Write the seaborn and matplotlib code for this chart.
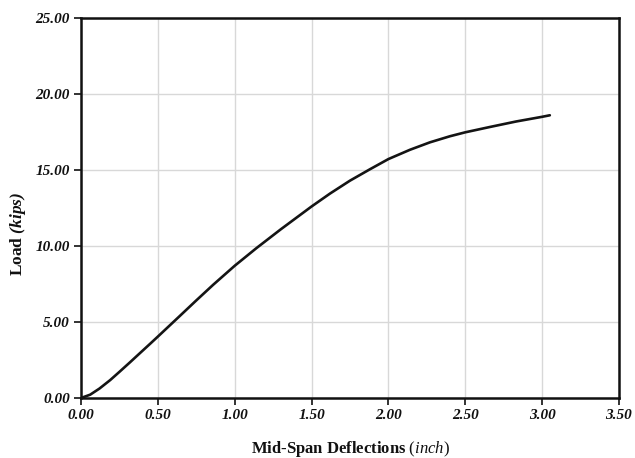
import matplotlib
matplotlib.use("Agg")
import matplotlib.pyplot as plt
import seaborn as sns
import pandas as pd

deflection = [0.0, 0.06, 0.12, 0.19, 0.25, 0.32, 0.38, 0.45, 0.5, 0.58, 0.64,
              0.75, 0.86, 1.0, 1.14, 1.3, 1.5, 1.62, 1.75, 1.88, 2.0, 2.14,
              2.27, 2.4, 2.5, 2.66, 2.83, 3.0, 3.05]
load = [0.0, 0.22, 0.62, 1.18, 1.72, 2.36, 2.92, 3.57, 4.04, 4.8, 5.37,
        6.42, 7.45, 8.7, 9.85, 11.1, 12.6, 13.45, 14.3, 15.05, 15.72, 16.33,
        16.82, 17.22, 17.48, 17.83, 18.19, 18.5, 18.6]
x_ticks = [0.0, 0.5, 1.0, 1.5, 2.0, 2.5, 3.0, 3.5]
y_ticks = [0, 5, 10, 15, 20, 25]

sns.set_theme(style="whitegrid")
plt.rcParams['font.family'] = ['Liberation Serif', 'DejaVu Serif']
plt.rcParams['mathtext.fontset'] = 'custom'
plt.rcParams['mathtext.rm'] = 'Liberation Serif'
plt.rcParams['mathtext.it'] = 'Liberation Serif:italic'
plt.rcParams['mathtext.bf'] = 'Liberation Serif:bold'
plt.rcParams['mathtext.bfit'] = 'Liberation Serif:bold:italic'

df = pd.DataFrame({"Deflection": deflection, "Load": load})

fig = plt.figure(figsize=(6.35, 4.58), dpi=100)
ax = fig.add_axes([81/635, 1-398/458, (619-81)/635, (398-18)/458])
sns.lineplot(data=df, x="Deflection", y="Load", ax=ax, color="#141414",
             linewidth=1.9, sort=False)

ax.set_xlim(0, 3.5)
ax.set_ylim(0, 25)
ax.set_xticks(x_ticks)
ax.set_yticks(y_ticks)
ax.set_xticklabels([f"{v:.2f}" for v in x_ticks])
ax.set_yticklabels([f"{v:.2f}" for v in y_ticks])
for lbl in ax.get_xticklabels() + ax.get_yticklabels():
    lbl.set_fontweight('bold')
    lbl.set_fontstyle('italic')
    lbl.set_fontsize(11)
    lbl.set_color('#111111')

ax.grid(True, color="#d8d8d8", linewidth=1.0)
for s in ax.spines.values():
    s.set_visible(True)
    s.set_color("#111111")
    s.set_linewidth(1.8)
ax.tick_params(axis='both', which='major', direction='out', length=5, width=1.2,
               color='#111111', bottom=True, left=True, pad=3)

ax.set_xlabel(r"Mid-Span Deflections $\mathit{(inch)}$", fontsize=12,
              fontweight='bold', color='#111111', labelpad=12)
ax.set_ylabel(r"Load $\mathbfit{(kips)}$", fontsize=12.5, fontweight='bold',
              color='#111111')
ax.yaxis.label.set_va('center')
ax.yaxis.set_label_coords((18-81)/538, (398-234)/380)

fig.savefig("out.png", dpi=100, facecolor="white")
